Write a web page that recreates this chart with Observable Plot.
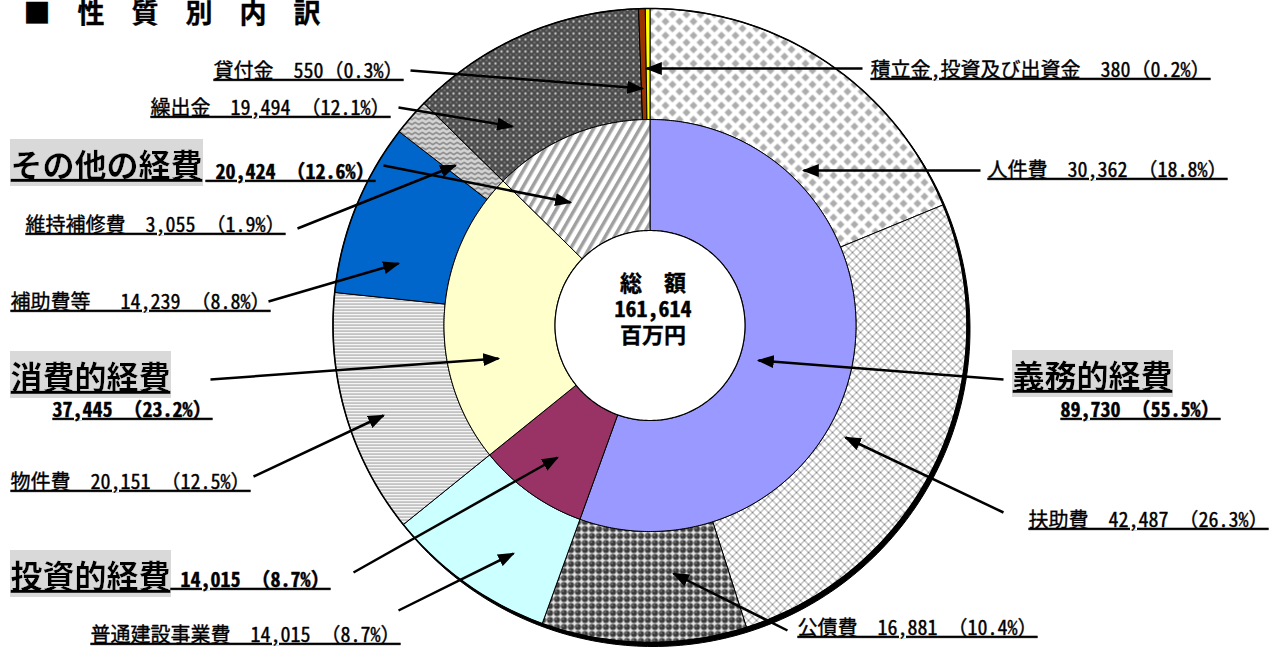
<!DOCTYPE html>
<html><head><meta charset="utf-8">
<script src="https://cdn.jsdelivr.net/npm/d3@7"></script>
<script src="https://cdn.jsdelivr.net/npm/@observablehq/plot@0.6"></script>
<style>body{margin:0;background:#fff;} svg{display:block;}</style>
</head><body><div id="chart"></div>
<script>
// ---------- data ----------
const total = 161614;
const categories = ["義務的経費", "投資的経費", "消費的経費", "その他の経費"];
const categoryValues = [89730, 14015, 37445, 20424];
const categoryShares = ["55.5%", "8.7%", "23.2%", "12.6%"];
const items = ["人件費", "扶助費", "公債費", "普通建設事業費", "物件費", "補助費等", "維持補修費", "繰出金", "貸付金", "積立金,投資及び出資金"];
const itemValues = [30362, 42487, 16881, 14015, 20151, 14239, 3055, 19494, 550, 380];
const itemShares = ["18.8%", "26.3%", "10.4%", "8.7%", "12.5%", "8.8%", "1.9%", "12.1%", "0.3%", "0.2%"];

// ---------- styles / layout ----------
const categoryFills = ["#9999FF", "#993366", "#FFFFCC", "url(#pStripe)"];
const itemFills = ["url(#pDiamond)", "url(#pCross)", "url(#pSphere)", "#CCFFFF", "url(#pHLine)", "#0066CC", "url(#pWave)", "url(#pTrellis)", "#993300", "#FFFF00"];
const CX = 649.5, CY = 325, R_HOLE = 95, R_INNER = 206, R_OUTER = 317;
const FONT = "'Noto Sans Mono CJK JP', 'Noto Sans CJK JP', sans-serif";
const itemLayout = [
  {x: 987, y: 170, anchor: "start", sep: " ", from: [980, 170], to: [803, 170]},
  {x: 1028, y: 520, anchor: "start", sep: " ", from: [1003, 512], to: [845, 437]},
  {x: 797, y: 628, anchor: "start", sep: " ", from: [787, 630], to: [673, 573]},
  {x: 90, y: 635, anchor: "start", sep: " ", from: [398, 610], to: [513, 553]},
  {x: 10, y: 482, anchor: "start", sep: " ", from: [253, 476], to: [383, 415]},
  {x: 10, y: 302, anchor: "start", sep: " ", from: [268, 301], to: [398, 263], pre: " "},
  {x: 25, y: 225, anchor: "start", sep: " ", from: [297, 228], to: [455, 165]},
  {x: 390, y: 108, anchor: "end", sep: " ", from: [398, 107], to: [512, 126]},
  {x: 403, y: 71, anchor: "end", sep: "", from: [410, 70], to: [642, 88]},
  {x: 870, y: 70, anchor: "start", sep: "", from: [862, 68], to: [646, 68]}
];
const categoryLayout = [
  {x: 1172, y: 377, anchor: "end", nx: 1060, ny: 410, npre: "", from: [1003, 379], to: [758, 360]},
  {x: 10, y: 577, anchor: "start", nx: 170, ny: 580, npre: " ", from: [353, 572], to: [557, 457]},
  {x: 10, y: 378, anchor: "start", nx: 52, ny: 410, npre: "", from: [210, 379], to: [498, 358]},
  {x: 10, y: 166, anchor: "start", nx: 205, ny: 172, npre: " ", from: [383, 165], to: [570, 202]}
];
const centerLines = ["総　額", d3.format(",")(total), "百万円"];
const centerLayout = [{y: 283}, {y: 309}, {y: 335}];

// ---------- geometry helpers ----------
const fmt = d3.format(",");
function ringPolys(names, values, fills, r0, r1) {
  const arcs = d3.pie().sort(null).value(d => d)(values);
  const pts = [];
  arcs.forEach((a, i) => {
    const n = Math.max(2, Math.ceil((a.endAngle - a.startAngle) / 0.01));
    const poly = [];
    for (let k = 0; k <= n; k++) poly.push([a.startAngle + (a.endAngle - a.startAngle) * k / n, r1]);
    for (let k = n; k >= 0; k--) poly.push([a.startAngle + (a.endAngle - a.startAngle) * k / n, r0]);
    poly.push(poly[0]);
    poly.forEach(([t, r]) => pts.push({key: names[i], fill: fills[i], x: CX + r * Math.sin(t), y: CY - r * Math.cos(t)}));
  });
  return pts;
}
function circlePts(cx, cy, r) {
  return d3.range(0, 361).map(k => ({x: cx + r * Math.sin(k * Math.PI / 180), y: cy - r * Math.cos(k * Math.PI / 180)}));
}

const outerRing = ringPolys(items, itemValues, itemFills, R_INNER, R_OUTER);
const innerRing = ringPolys(categories, categoryValues, categoryFills, R_HOLE, R_INNER);

const itemLabels = items.map((name, i) => ({
  text: `${name}　${itemLayout[i].pre || ""}${fmt(itemValues[i])}${itemLayout[i].sep}（${itemShares[i]}）`,
  ...itemLayout[i]
}));
const catLabels = categories.map((name, i) => ({text: name, ...categoryLayout[i]}));
const catNumbers = categories.map((name, i) => ({
  text: `${categoryLayout[i].npre}${fmt(categoryValues[i])} （${categoryShares[i]}）`,
  x: categoryLayout[i].nx, y: categoryLayout[i].ny
}));
const arrows = [...itemLayout, ...categoryLayout].map(d => ({x1: d.from[0], y1: d.from[1], x2: d.to[0], y2: d.to[1]}));
const centerText = centerLines.map((t, i) => ({text: t, x: CX + 3, y: centerLayout[i].y}));

const tag = name => ({ariaLabel: () => name, ariaDescription: name});
const ink = {stroke: "black", strokeWidth: 0.35};

const svg = Plot.plot({
  width: 1273, height: 650,
  marginTop: 0, marginRight: 0, marginBottom: 0, marginLeft: 0,
  x: {domain: [0, 1273], range: [0, 1273], axis: null},
  y: {domain: [0, 650], range: [0, 650], axis: null},
  color: {type: "identity"},
  marks: [
    Plot.line(circlePts(CX + 3, CY + 4, R_OUTER), {x: "x", y: "y", fill: "black", stroke: "black", strokeWidth: 1}),
    Plot.line(outerRing, {x: "x", y: "y", z: "key", fill: "fill", stroke: "black", strokeWidth: 1, curve: "linear"}),
    Plot.line(circlePts(CX, CY, R_OUTER), {x: "x", y: "y", stroke: "black", strokeWidth: 1.6}),
    Plot.line(innerRing, {x: "x", y: "y", z: "key", fill: "fill", stroke: "black", strokeWidth: 1, curve: "linear"}),
    Plot.line(circlePts(CX, CY, R_HOLE), {x: "x", y: "y", fill: "white", stroke: "black", strokeWidth: 1.2}),
    Plot.link(arrows, {x1: "x1", y1: "y1", x2: "x2", y2: "y2", stroke: "black", strokeWidth: 2.5, ...tag("arrows")}),
    Plot.text(itemLabels.filter(d => d.anchor === "start"), {x: "x", y: "y", text: "text", textAnchor: "start", fontSize: 20, fontFamily: FONT, fill: "black", ...ink, ...tag("ul")}),
    Plot.text(itemLabels.filter(d => d.anchor === "end"), {x: "x", y: "y", text: "text", textAnchor: "end", fontSize: 20, fontFamily: FONT, fill: "black", ...ink, ...tag("ul")}),
    Plot.text(catLabels.filter(d => d.anchor === "start"), {x: "x", y: "y", text: "text", textAnchor: "start", fontSize: 32, fontWeight: "bold", fontFamily: FONT, fill: "black", ...tag("big")}),
    Plot.text(catLabels.filter(d => d.anchor === "end"), {x: "x", y: "y", text: "text", textAnchor: "end", fontSize: 32, fontWeight: "bold", fontFamily: FONT, fill: "black", ...tag("big")}),
    Plot.text(catNumbers, {x: "x", y: "y", text: "text", textAnchor: "start", fontSize: 20, fontWeight: "bold", fontFamily: FONT, fill: "black", ...ink, ...tag("ul")}),
    Plot.text(centerText, {x: "x", y: "y", text: "text", textAnchor: "middle", fontSize: 22, fontWeight: "bold", fontFamily: FONT, fill: "black", ...ink}),
    Plot.text(["■　性　質　別　内　訳"], {x: () => 23, y: () => 14, text: d => d, textAnchor: "start", fontSize: 27, fontWeight: "bold", fontFamily: FONT, fill: "black", ...ink})
  ]
});

svg.insertAdjacentHTML("afterbegin", `
<defs>
  <marker id="ah" viewBox="0 0 10 10" refX="9" refY="5" markerWidth="17" markerHeight="13" markerUnits="userSpaceOnUse" orient="auto" preserveAspectRatio="none">
    <path d="M0,0L10,5L0,10Z" fill="black"/>
  </marker>
  <filter id="bgGray" x="0" y="0" width="1" height="1">
    <feFlood flood-color="#D9D9D9"/>
    <feComposite in="SourceGraphic" operator="over"/>
  </filter>
  <pattern id="pDiamond" width="14" height="14" patternUnits="userSpaceOnUse">
    <rect width="14" height="14" fill="#fff"/>
    <path d="M7,3L11,7L7,11L3,7Z M0,-4L4,0L0,4L-4,0Z M14,-4L18,0L14,4L10,0Z M0,10L4,14L0,18L-4,14Z M14,10L18,14L14,18L10,14Z" fill="#adadad"/>
  </pattern>
  <pattern id="pCross" width="8" height="8" patternUnits="userSpaceOnUse">
    <rect width="8" height="8" fill="#fff"/>
    <path d="M0,0L8,8M8,0L0,8" stroke="#8a8a8a" stroke-width="1"/>
  </pattern>
  <pattern id="pSphere" width="7" height="7" patternUnits="userSpaceOnUse">
    <rect width="7" height="7" fill="#e6e6e6"/>
    <circle cx="3.5" cy="3.5" r="3.1" fill="#3a3a3a"/>
    <circle cx="2.6" cy="2.6" r="0.8" fill="#9a9a9a"/>
  </pattern>
  <pattern id="pTrellis" width="6" height="6" patternUnits="userSpaceOnUse">
    <rect width="6" height="6" fill="#4a4a4a"/>
    <path d="M3,1.6L4.4,3L3,4.4L1.6,3Z" fill="#dcdcdc"/>
    <path d="M0,-1L1,0L0,1L-1,0Z M6,-1L7,0L6,1L5,0Z M0,5L1,6L0,7L-1,6Z M6,5L7,6L6,7L5,6Z" fill="#9a9a9a"/>
  </pattern>
  <pattern id="pHLine" width="3" height="3" patternUnits="userSpaceOnUse">
    <rect width="3" height="3" fill="#fff"/>
    <rect y="0" width="3" height="1.2" fill="#9a9a9a"/>
  </pattern>
  <pattern id="pWave" width="7" height="5" patternUnits="userSpaceOnUse">
    <rect width="7" height="5" fill="#d4d4d4"/>
    <path d="M0,3 Q1.75,0.8 3.5,3 T7,3" stroke="#404040" stroke-width="1" fill="none"/>
  </pattern>
  <pattern id="pStripe" width="8" height="8" patternUnits="userSpaceOnUse" patternTransform="rotate(30)">
    <rect width="8" height="8" fill="#fff"/>
    <rect width="3.5" height="8" fill="#a0a0a0"/>
  </pattern>
</defs>`);

function tagged(name, sel) {
  const set = new Set();
  svg.querySelectorAll(`[aria-label="${name}"]`).forEach(e => { if (!sel || e.matches(sel)) set.add(e); });
  svg.querySelectorAll(`g[aria-description="${name}"] ${sel || "*"}`).forEach(e => set.add(e));
  return [...set].filter(e => e.tagName !== "g");
}
tagged("arrows", "path").forEach(p => p.setAttribute("marker-end", "url(#ah)"));
[...tagged("ul", "text"), ...tagged("big", "text")].forEach(t => {
  t.style.textDecoration = "underline";
  t.style.textDecorationThickness = "2px";
  t.style.whiteSpace = "pre";
});
tagged("big", "text").forEach(t => t.setAttribute("filter", "url(#bgGray)"));
document.getElementById("chart").appendChild(svg);
</script>
</body></html>
